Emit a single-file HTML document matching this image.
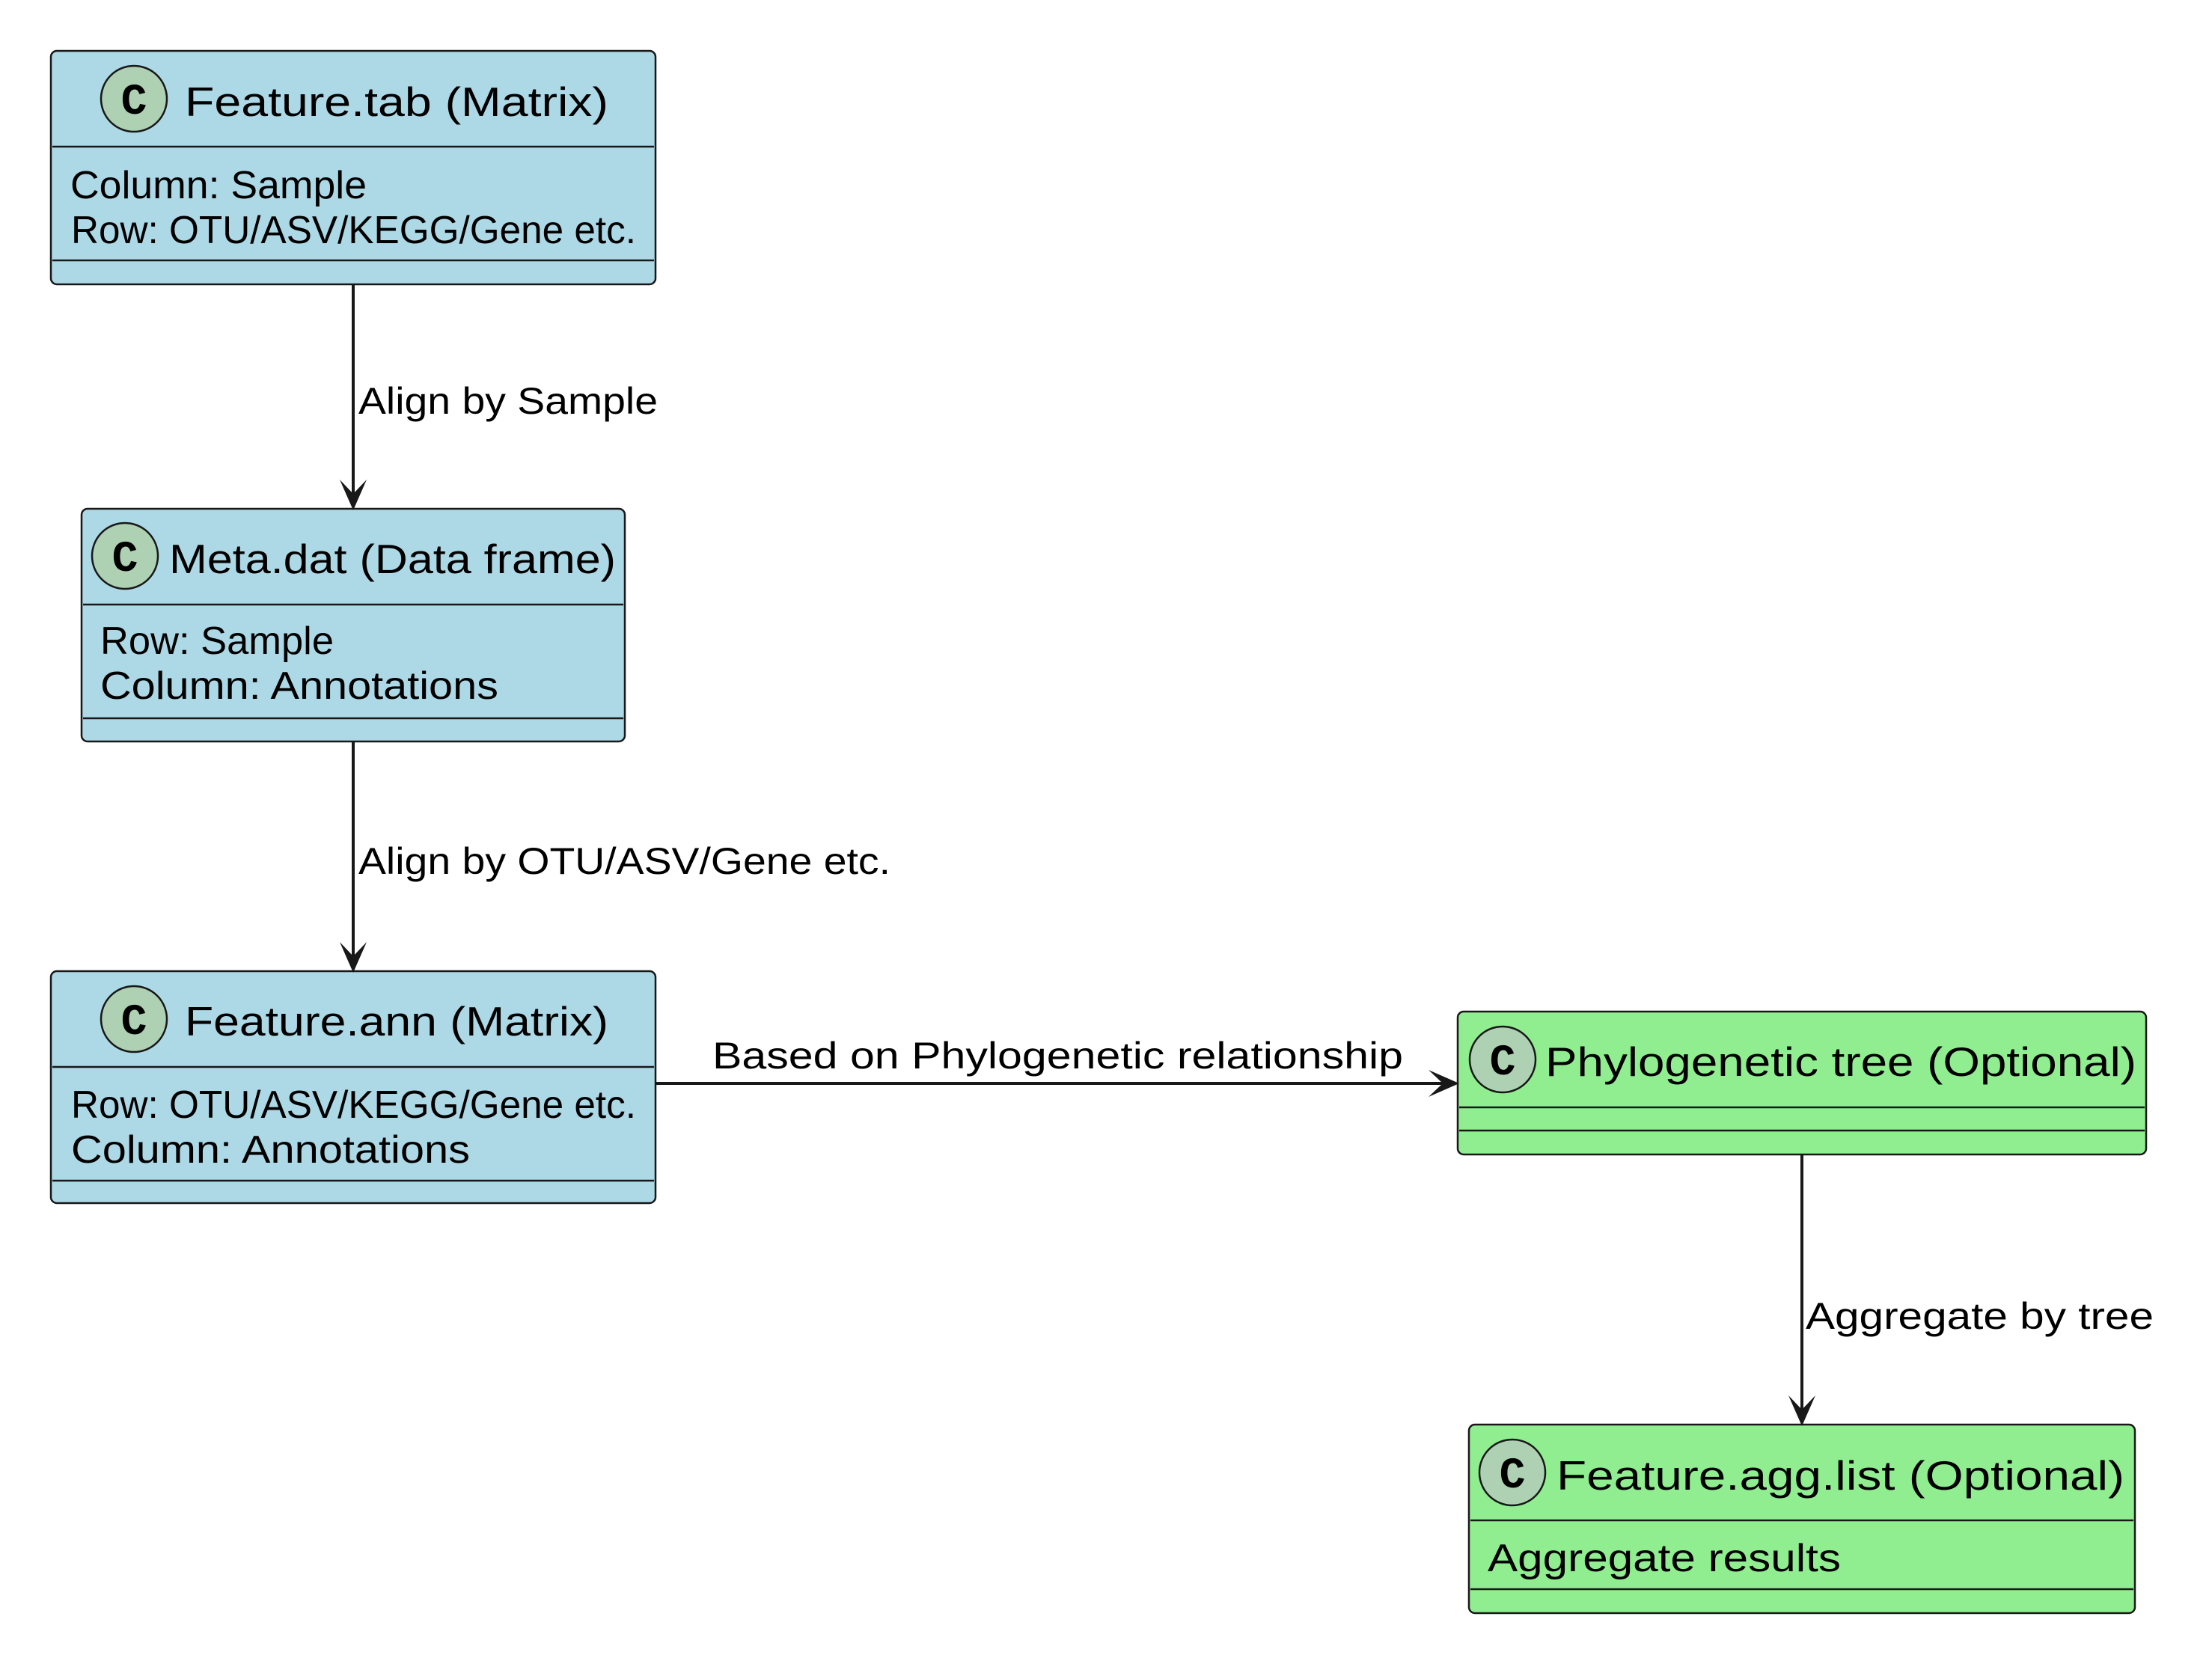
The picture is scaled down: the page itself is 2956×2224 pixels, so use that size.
<!DOCTYPE html>
<html><head><meta charset="utf-8"><style>html,body{margin:0;padding:0;background:#fff}svg{display:block}</style></head>
<body>
<svg xmlns="http://www.w3.org/2000/svg" width="2956" height="2224" viewBox="0 0 2956 2224" font-family="'Liberation Sans', sans-serif" fill="#000">
<rect width="2956" height="2224" fill="#fff"/>
<g stroke="#181818" stroke-width="2.5">
<rect x="68" y="68" width="808" height="312" rx="8" fill="#ADD8E6"/>
<line x1="70" y1="196" x2="874" y2="196"/><line x1="70" y1="348" x2="874" y2="348"/>
<rect x="109" y="680" width="726" height="311" rx="8" fill="#ADD8E6"/>
<line x1="111" y1="808" x2="833" y2="808"/><line x1="111" y1="960" x2="833" y2="960"/>
<rect x="68" y="1298" width="808" height="310" rx="8" fill="#ADD8E6"/>
<line x1="70" y1="1426" x2="874" y2="1426"/><line x1="70" y1="1578" x2="874" y2="1578"/>
<rect x="1948" y="1352" width="920" height="191" rx="8" fill="#90EE90"/>
<line x1="1950" y1="1480" x2="2866" y2="1480"/><line x1="1950" y1="1511" x2="2866" y2="1511"/>
<rect x="1963" y="1904" width="890" height="252" rx="8" fill="#90EE90"/>
<line x1="1965" y1="2032" x2="2851" y2="2032"/><line x1="1965" y1="2124" x2="2851" y2="2124"/>
<g fill="#ADD1B2">
<circle cx="179" cy="132" r="44"/><circle cx="167" cy="743" r="44"/><circle cx="179" cy="1362" r="44"/>
<circle cx="2008" cy="1416" r="44"/><circle cx="2021" cy="1968" r="44"/>
</g>
</g>
<g stroke="#181818" stroke-width="4" fill="none">
<line x1="472" y1="380" x2="472" y2="670"/>
<line x1="472" y1="991" x2="472" y2="1288"/>
<line x1="876" y1="1448" x2="1938" y2="1448"/>
<line x1="2408" y1="1543" x2="2408" y2="1894"/>
</g>
<g fill="#181818">
<polygon points="472,682 454,641 472,660 490,641"/>
<polygon points="472,1300 454,1259 472,1278 490,1259"/>
<polygon points="1950,1448 1909,1430 1928,1448 1909,1466"/>
<polygon points="2408,1906 2390,1865 2408,1884 2426,1865"/>
</g>
<g font-family="'Liberation Mono', monospace" font-weight="bold" font-size="58" text-anchor="middle">
<text x="179" y="152">C</text><text x="167" y="763">C</text><text x="179" y="1382">C</text>
<text x="2008" y="1436">C</text><text x="2021" y="1988">C</text>
</g>
<g font-size="55">
<text x="247" y="155" textLength="566" lengthAdjust="spacingAndGlyphs">Feature.tab (Matrix)</text>
<text x="226" y="766" textLength="597" lengthAdjust="spacingAndGlyphs">Meta.dat (Data frame)</text>
<text x="247" y="1384" textLength="566" lengthAdjust="spacingAndGlyphs">Feature.ann (Matrix)</text>
<text x="2065" y="1438" textLength="790" lengthAdjust="spacingAndGlyphs">Phylogenetic tree (Optional)</text>
<text x="2080" y="1991" textLength="759" lengthAdjust="spacingAndGlyphs">Feature.agg.list (Optional)</text>
</g>
<g font-size="52">
<text x="94" y="265" textLength="396" lengthAdjust="spacingAndGlyphs">Column: Sample</text>
<text x="95" y="325" textLength="755" lengthAdjust="spacingAndGlyphs">Row: OTU/ASV/KEGG/Gene etc.</text>
<text x="134" y="874" textLength="312" lengthAdjust="spacingAndGlyphs">Row: Sample</text>
<text x="134" y="934" textLength="532" lengthAdjust="spacingAndGlyphs">Column: Annotations</text>
<text x="95" y="1494" textLength="755" lengthAdjust="spacingAndGlyphs">Row: OTU/ASV/KEGG/Gene etc.</text>
<text x="95" y="1554" textLength="533" lengthAdjust="spacingAndGlyphs">Column: Annotations</text>
<text x="1988" y="2100" textLength="472" lengthAdjust="spacingAndGlyphs">Aggregate results</text>
</g>
<g font-size="50">
<text x="479" y="553" textLength="400" lengthAdjust="spacingAndGlyphs">Align by Sample</text>
<text x="479" y="1168" textLength="711" lengthAdjust="spacingAndGlyphs">Align by OTU/ASV/Gene etc.</text>
<text x="952" y="1428" textLength="923" lengthAdjust="spacingAndGlyphs">Based on Phylogenetic relationship</text>
<text x="2413" y="1776" textLength="465" lengthAdjust="spacingAndGlyphs">Aggregate by tree</text>
</g>
</svg>
</body></html>
